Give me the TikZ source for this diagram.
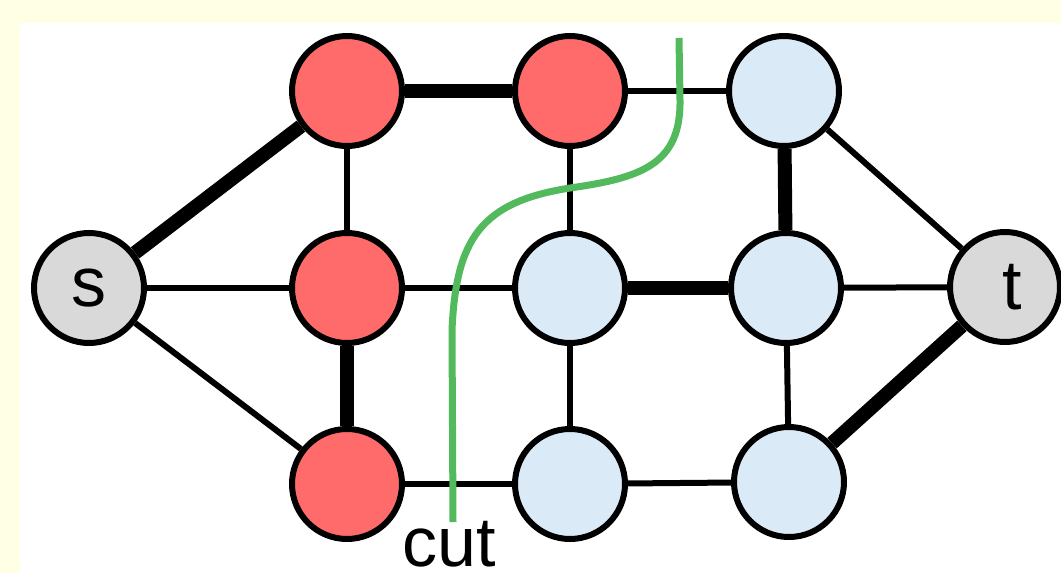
\documentclass[tikz,border=0pt]{standalone}
\usepackage{fontspec}
\setmainfont{Liberation Sans}
\definecolor{paper}{RGB}{255,255,230}
\definecolor{srcfill}{RGB}{255,107,107}
\definecolor{sinkfill}{RGB}{218,234,247}
\definecolor{termfill}{RGB}{217,217,217}
\definecolor{cutgreen}{RGB}{82,186,92}
\tikzset{
  vert/.style={circle, draw=black, line width=6pt, minimum size=110pt, inner sep=0pt,
    font=\fontsize{70}{80}\selectfont},
  redv/.style={vert, fill=srcfill},
  bluev/.style={vert, fill=sinkfill},
  termv/.style={vert, fill=termfill},
  thin edge/.style={line width=6pt},
  thick edge/.style={line width=14pt},
}
\begin{document}
\begin{tikzpicture}[x=1pt,y=-1pt]
  % page and white panel
  \fill[paper] (0,0) rectangle (1061,573);
  \fill[white] (20,23) rectangle (1061,573);
  \useasboundingbox (0,0) rectangle (1061,573);

  % vertices: source side red, sink side blue
  \node[termv] (s) at (89,288) {s};
  \node[redv]  (a1) at (347,91) {};
  \node[redv]  (a2) at (347,288) {};
  \node[redv]  (a3) at (347,484) {};
  \node[redv]  (b1) at (570,91) {};
  \node[bluev] (b2) at (570,288) {};
  \node[bluev] (b3) at (570,484) {};
  \node[bluev] (c1) at (784,91) {};
  \node[bluev] (c2) at (786,288) {};
  \node[bluev] (c3) at (789,482) {};
  \node[termv] (t) at (1005,287) {\hspace{14pt}t};

  % edges
  \draw[thick edge] (s) -- (a1);
  \draw[thin edge]  (s) -- (a2);
  \draw[thin edge]  (s) -- (a3);
  \draw[thick edge] (a1) -- (b1);
  \draw[thin edge]  (a1) -- (a2);
  \draw[thick edge] (a2) -- (a3);
  \draw[thin edge]  (a2) -- (b2);
  \draw[thin edge]  (a3) -- (b3);
  \draw[thin edge]  (b1) -- (c1);
  \draw[thin edge]  (b1) -- (b2);
  \draw[thick edge] (b2) -- (c2);
  \draw[thin edge]  (b2) -- (b3);
  \draw[thin edge]  (b3) -- (c3);
  \draw[thick edge] (c1) -- (c2);
  \draw[thin edge]  (c2) -- (c3);
  \draw[thin edge]  (c1) -- (t);
  \draw[thin edge]  (c2) -- (t);
  \draw[thick edge] (c3) -- (t);

  % the cut
  \coordinate (cuttop) at (679,38);
  \coordinate (cutbot) at (453,522);
  \draw[cutgreen, line width=7pt]
    (cuttop) -- (680,100)
    .. controls (681,165) and (640,178) .. (570,188)
    .. controls (480,202) and (456,240) .. (452,330)
    -- (cutbot);
  \node[font=\fontsize{70}{80}\selectfont, anchor=base, inner sep=0pt] (cutlabel) at (449,566) {cut};
\end{tikzpicture}
\end{document}
